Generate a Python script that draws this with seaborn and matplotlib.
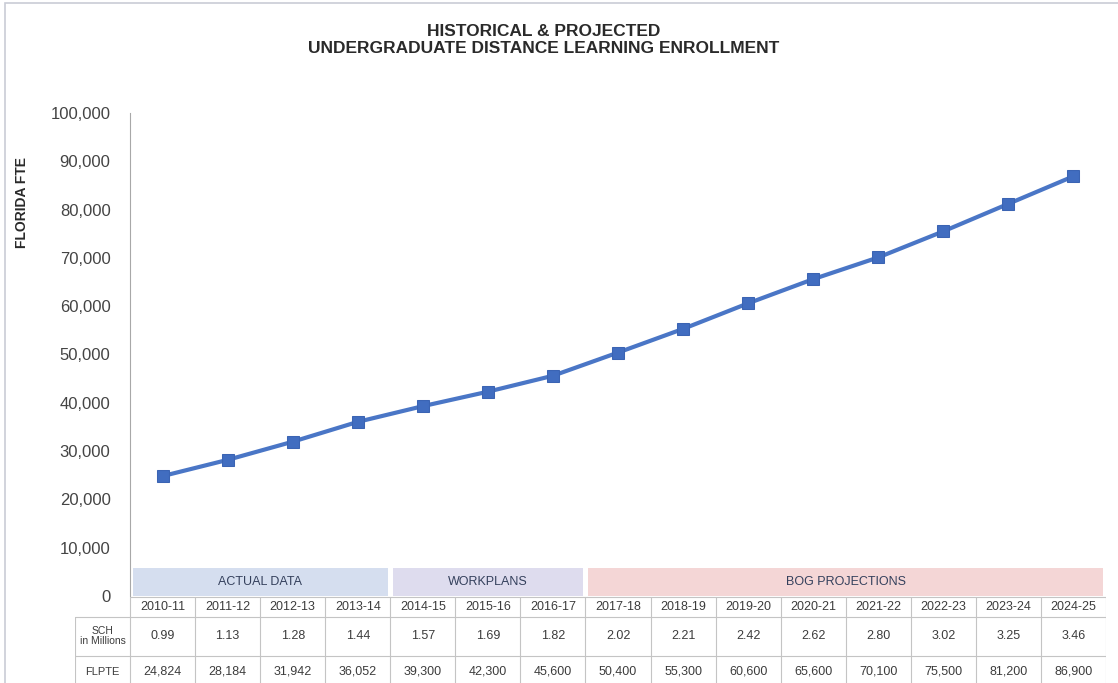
import matplotlib
matplotlib.use("Agg")
import matplotlib.pyplot as plt
from matplotlib.patches import Rectangle
import seaborn as sns
import pandas as pd

years = ["2010-11", "2011-12", "2012-13", "2013-14", "2014-15", "2015-16", "2016-17",
         "2017-18", "2018-19", "2019-20", "2020-21", "2021-22", "2022-23", "2023-24", "2024-25"]
sch_millions = [0.99, 1.13, 1.28, 1.44, 1.57, 1.69, 1.82, 2.02, 2.21, 2.42, 2.62, 2.80, 3.02, 3.25, 3.46]
florida_fte = [24824, 28184, 31942, 36052, 39300, 42300, 45600, 50400, 55300, 60600, 65600,
               70100, 75500, 81200, 86900]
group_names = ["ACTUAL DATA", "WORKPLANS", "BOG PROJECTIONS"]
group_sizes = [4, 3, 8]
group_colors = ["#d5deef", "#dedcee", "#f4d6d6"]
y_ticks = list(range(0, 100001, 10000))

sns.set_style("white")
plt.rcParams["font.family"] = ["Liberation Sans", "DejaVu Sans"]

W, H = 1118, 683
fig = plt.figure(figsize=(W / 100, H / 100), dpi=100)
fig.patch.set_facecolor("white")


def box(l, t, r, b):
    # pixel box -> figure fraction
    return [l / W, 1 - b / H, (r - l) / W, (b - t) / H]


text_col = "#3c3c3c"
line_col = "#4a76c6"

# main chart
ax = fig.add_axes(box(130, 113, 1106, 596))
df = pd.DataFrame({"x": range(len(years)), "fte": florida_fte})
sns.lineplot(data=df, x="x", y="fte", ax=ax, color=line_col, linewidth=3,
             marker="s", markersize=8, markerfacecolor="#416dc0", markeredgecolor="#3b64b3")
ax.set_xlim(-0.5, len(years) - 0.5)
ax.set_ylim(0, 100000)
ax.set_yticks(y_ticks)
ax.set_yticklabels([f"{v:,}" for v in y_ticks], fontsize=12, color="#444444")
ax.set_xticks([])
ax.set_xlabel("")
ax.set_ylabel("")
ax.tick_params(axis="y", length=0, pad=14)
for s in ["top", "right", "bottom"]:
    ax.spines[s].set_visible(False)
ax.spines["left"].set_color("#a8a8a8")

# group bands at the bottom of the plot
start = 0
for name, size, col in zip(group_names, group_sizes, group_colors):
    ax.add_patch(Rectangle((start - 0.5 + 0.04, 0), size - 0.08, 5800,
                           facecolor=col, edgecolor="none", zorder=1))
    ax.text(start - 0.5 + size / 2, 2900, name, ha="center", va="center",
            fontsize=9, color="#34405c", zorder=2)
    start += size

# data table below
tb = fig.add_axes(box(75, 596, 1106, 683))
lab_w = 55 / 65
tb.set_xlim(-0.5 - lab_w, len(years) - 0.5)
tb.set_ylim(87, 0)
tb.axis("off")
grid_col = "#c4c4c4"
n = len(years)
tb.plot([-0.5, n - 0.5], [0.5, 0.5], color=grid_col, lw=0.8)
tb.plot([-0.5 - lab_w, n - 0.5], [21, 21], color=grid_col, lw=0.8)
tb.plot([-0.5 - lab_w, n - 0.5], [60, 60], color=grid_col, lw=0.8)
for i in range(n + 1):
    tb.plot([i - 0.5, i - 0.5], [0.5, 87], color=grid_col, lw=0.8)
tb.plot([-0.5 - lab_w, -0.5 - lab_w], [21, 87], color=grid_col, lw=0.8)

for i, (yr, s, f) in enumerate(zip(years, sch_millions, florida_fte)):
    tb.text(i, 11, yr, ha="center", va="center", fontsize=9, color=text_col)
    tb.text(i, 40, f"{s:.2f}", ha="center", va="center", fontsize=9, color=text_col)
    tb.text(i, 76, f"{f:,}", ha="center", va="center", fontsize=9, color=text_col)
tb.text(-0.5 - lab_w / 2, 40, "SCH\nin Millions", ha="center", va="center",
        fontsize=7.5, color=text_col, linespacing=1.1)
tb.text(-0.5 - lab_w / 2, 76, "FLPTE", ha="center", va="center", fontsize=8, color=text_col)

# titles
fig.text(544 / W, 1 - 40 / H, "HISTORICAL & PROJECTED\nUNDERGRADUATE DISTANCE LEARNING ENROLLMENT",
         ha="center", va="center", fontsize=12.5, fontweight="bold", color="#2a2a2a",
         linespacing=1.15)
fig.text(22 / W, 1 - 202 / H, "FLORIDA FTE", rotation=90, ha="center", va="center",
         fontsize=10, fontweight="bold", color="#2a2a2a")

# outer frame
fig.add_artist(Rectangle((5 / W, -0.01), 1.2, 1 - 3 / H + 0.01, transform=fig.transFigure,
                         fill=False, edgecolor="#c9ccd6", lw=1.2))

fig.savefig("out.png", dpi=100)
